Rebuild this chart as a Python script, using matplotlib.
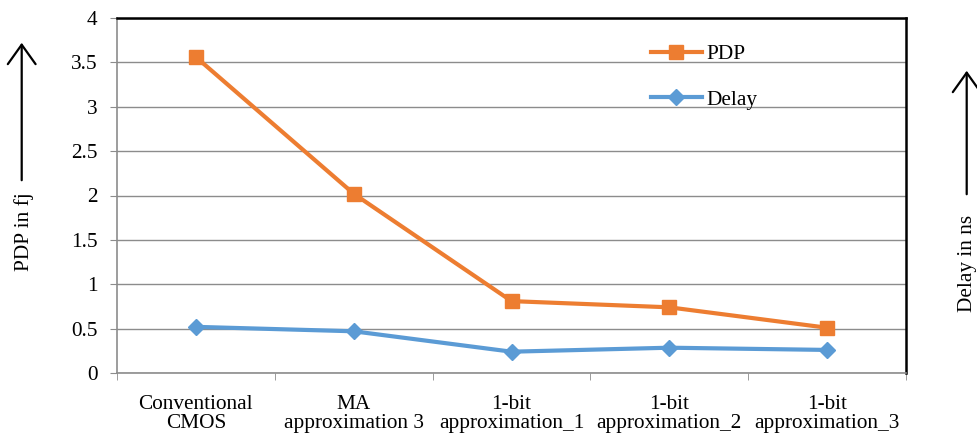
import matplotlib
matplotlib.use('Agg')
import matplotlib.pyplot as plt
from matplotlib.patches import FancyArrowPatch

categories = ['Conventional\nCMOS', 'MA\napproximation 3', '1-bit\napproximation_1',
              '1-bit\napproximation_2', '1-bit\napproximation_3']
pdp = [3.56, 2.02, 0.81, 0.74, 0.51]
delay = [0.52, 0.47, 0.24, 0.285, 0.26]
yticks = [0, 0.5, 1, 1.5, 2, 2.5, 3, 3.5, 4]

plt.rcParams['font.family'] = ['Liberation Serif', 'DejaVu Serif']
plt.rcParams['font.size'] = 15.3

fig = plt.figure(figsize=(9.77, 4.37), dpi=100)
ax = fig.add_axes([117 / 977, 1 - 373 / 437, (906 - 117) / 977, (373 - 18) / 437])

x = list(range(len(categories)))
ax.plot(x, pdp, color='#ED7D31', lw=3, marker='s', ms=10, label='PDP', zorder=3)
ax.plot(x, delay, color='#5B9BD5', lw=3, marker='D', ms=8, label='Delay', zorder=3)

ax.set_xlim(-0.5, len(categories) - 0.5)
ax.set_ylim(0, 4)
ax.set_yticks(yticks)
ax.set_yticklabels([f'{v:g}' for v in yticks])
ax.yaxis.grid(True, color='#8c8c8c', lw=1)
ax.set_axisbelow(True)

ax.set_xticks(x)
ax.set_xticklabels(categories, linespacing=1.0)
ax.set_xticks([i - 0.5 for i in range(len(categories) + 1)], minor=True)
ax.tick_params(axis='x', which='major', length=0, pad=16)
ax.tick_params(axis='x', which='minor', length=5, color='#8c8c8c', direction='out')
ax.tick_params(axis='y', length=5, color='#8c8c8c', direction='out', pad=9)

for side in ('left', 'bottom'):
    ax.spines[side].set_color('#8c8c8c')
    ax.spines[side].set_linewidth(1.2)
for side in ('top', 'right'):
    ax.spines[side].set_color('black')
    ax.spines[side].set_linewidth(1.8)

ax.legend(loc='upper left', bbox_to_anchor=((642 - 117) / 789, 1 - (36 - 18) / 355),
          frameon=False, handlelength=2.4, handletextpad=0.25, labelspacing=1.2,
          borderaxespad=0)

# axis labels with arrows, as in the original figure
arrow_style = '->,head_length=7,head_width=5'
fig.text(29 / 977, 1 - 232 / 437, 'PDP in fj', rotation=90, rotation_mode='anchor',
         ha='center', va='baseline')
fig.add_artist(FancyArrowPatch((21.7 / 977, 1 - 183 / 437), (21.7 / 977, 1 - 40 / 437),
                               transform=fig.transFigure, arrowstyle=arrow_style,
                               lw=1.6, color='black', mutation_scale=2))
fig.text(972 / 977, 1 - 263 / 437, 'Delay in ns', rotation=90, rotation_mode='anchor',
         ha='center', va='baseline')
fig.add_artist(FancyArrowPatch((966.7 / 977, 1 - 197 / 437), (966.7 / 977, 1 - 68 / 437),
                               transform=fig.transFigure, arrowstyle=arrow_style,
                               lw=1.6, color='black', mutation_scale=2))

fig.savefig('out.png', dpi=100)
